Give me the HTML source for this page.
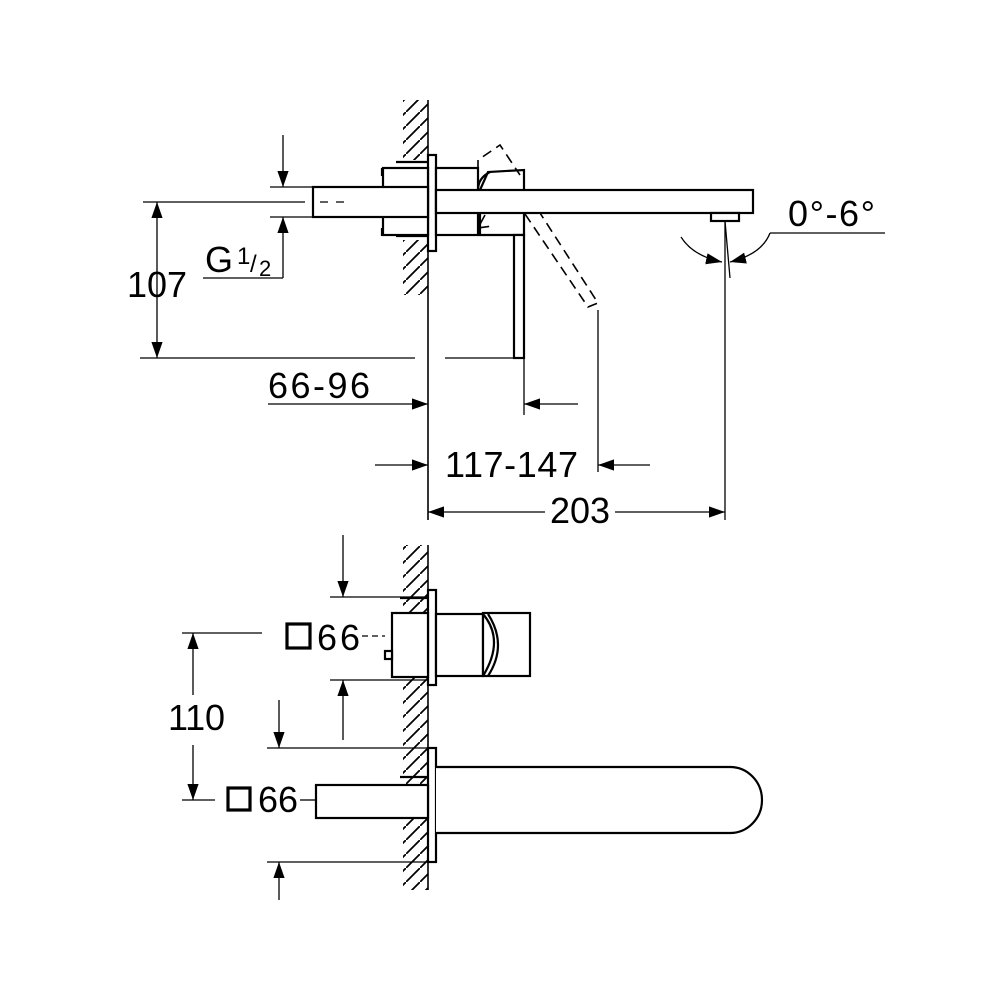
<!DOCTYPE html>
<html><head><meta charset="utf-8"><style>body{margin:0;background:#fff}svg{display:block}</style></head>
<body>
<svg width="1000" height="1000" viewBox="0 0 1000 1000" xmlns="http://www.w3.org/2000/svg" font-family="Liberation Sans, sans-serif">
<defs>
<pattern id="h" width="14" height="14" patternUnits="userSpaceOnUse">
<path d="M0 14 L14 0" stroke="#000" stroke-width="1.8"/>
</pattern>
<marker id="a" viewBox="0 0 10 10" refX="10" refY="5" markerWidth="16" markerHeight="16" markerUnits="userSpaceOnUse" orient="auto-start-reverse"><path d="M0 1.5 L10 5 L0 8.5Z" fill="#000"/></marker>
</defs>
<g stroke="#000" fill="none" stroke-width="1.3">
<!-- TOP VIEW walls -->
<rect x="403" y="100" width="25" height="195" fill="url(#h)" stroke="none"/>
<rect x="403" y="160" width="25" height="80" fill="#fff" stroke="none"/>
<line x1="428" y1="100" x2="428" y2="520" stroke-width="1.6"/>
<g stroke-width="2.2">
<rect x="428" y="155" width="8" height="96" fill="#fff"/>
<line x1="396" y1="162" x2="428" y2="162"/><line x1="396" y1="236" x2="428" y2="236"/>
<rect x="383" y="168" width="45" height="67" fill="#fff"/>
<rect x="313" y="187" width="115" height="30" fill="#fff"/>
<line x1="382" y1="168" x2="382" y2="176"/><line x1="382" y1="228" x2="382" y2="236"/>
<rect x="436" y="168" width="42" height="67" fill="#fff"/>
<path d="M480 190 L488 172 L524 170 L524 235 L480 235 Z" fill="#fff"/>
<path d="M478 190 Q478 178 490 172" />
<rect x="436" y="190" width="317" height="23" fill="#fff"/>
<rect x="514" y="235" width="10" height="123" fill="#fff"/>
<rect x="711" y="213" width="28" height="8" fill="#fff"/>
</g>
<line x1="320" y1="202" x2="345" y2="202" stroke-dasharray="8 8"/>
<g stroke-dasharray="10 6" stroke-width="1.6">
<path d="M478 170 L478 160 L500 145 L520 175"/>
<path d="M485 215 L478 228 L492 226"/>
<path d="M525 214 L588 307 L598 303 L540 213"/>
</g>
<!-- dimensions top -->
<line x1="143" y1="202" x2="305" y2="202"/>
<line x1="140" y1="358" x2="415" y2="358"/><line x1="445" y1="358" x2="514" y2="358"/>
<line x1="157" y1="202" x2="157" y2="358" marker-start="url(#a)" marker-end="url(#a)"/>
<line x1="270" y1="187" x2="313" y2="187"/><line x1="270" y1="217" x2="313" y2="217"/>
<line x1="283" y1="135" x2="283" y2="187" marker-end="url(#a)"/>
<line x1="283" y1="278" x2="283" y2="217" marker-end="url(#a)"/>
<line x1="203" y1="278" x2="283" y2="278"/>
<line x1="268" y1="404" x2="428" y2="404" marker-end="url(#a)"/>
<line x1="578" y1="404" x2="524" y2="404" marker-end="url(#a)"/>
<line x1="524" y1="358" x2="524" y2="415"/>
<line x1="375" y1="465" x2="428" y2="465" marker-end="url(#a)"/>
<line x1="650" y1="465" x2="598" y2="465" marker-end="url(#a)"/>
<line x1="598" y1="310" x2="598" y2="472"/>
<line x1="725" y1="221" x2="725" y2="520"/>
<line x1="725" y1="221" x2="730" y2="278"/>
<line x1="428" y1="512" x2="545" y2="512" marker-start="url(#a)"/>
<line x1="615" y1="512" x2="725" y2="512" marker-end="url(#a)"/>
<path d="M681 237 Q693 256 722 262" marker-end="url(#a)"/>
<path d="M770 233 Q762 254 730 262" marker-end="url(#a)"/>
<line x1="770" y1="233" x2="885" y2="233"/>
<!-- BOTTOM VIEW -->
<rect x="403" y="545" width="25" height="345" fill="url(#h)" stroke="none"/>
<line x1="428" y1="545" x2="428" y2="890" stroke-width="1.6"/>
<g stroke-width="2.2">
<line x1="400" y1="598" x2="428" y2="598"/><line x1="400" y1="672" x2="428" y2="672"/>
<rect x="428" y="590" width="8" height="95" fill="#fff"/>
<rect x="392" y="613" width="36" height="64" fill="#fff"/>
<rect x="385" y="651" width="7" height="8" fill="#fff"/>
<rect x="436" y="614" width="47" height="62" fill="#fff"/>
<rect x="483" y="613" width="47" height="63" fill="#fff"/>
<path d="M483 614 Q505 640 483 676"/><path d="M488 614 Q508 645 488 676"/>
<line x1="400" y1="777" x2="428" y2="777"/><line x1="400" y1="813" x2="428" y2="813"/>
<rect x="428" y="748" width="8" height="114" fill="#fff"/>
<path d="M436 767 L730 767 A32 33 0 0 1 730 833 L436 833" fill="#fff"/>
<rect x="316" y="785" width="112" height="33" fill="#fff"/>
<rect x="228" y="788" width="22" height="22" stroke-width="3.2"/>
<rect x="287" y="624" width="23" height="24" stroke-width="3.2"/>
</g>
<line x1="362" y1="636" x2="385" y2="636" stroke-dasharray="6 4"/>
<line x1="300" y1="800" x2="316" y2="800"/>
<line x1="330" y1="597" x2="428" y2="597"/><line x1="330" y1="680" x2="428" y2="680"/>
<line x1="343" y1="535" x2="343" y2="597" marker-end="url(#a)"/>
<line x1="343" y1="740" x2="343" y2="680" marker-end="url(#a)"/>
<line x1="182" y1="633" x2="262" y2="633"/><line x1="182" y1="800" x2="215" y2="800"/>
<line x1="193" y1="695" x2="193" y2="633" marker-end="url(#a)"/>
<line x1="193" y1="745" x2="193" y2="800" marker-end="url(#a)"/>
<line x1="267" y1="748" x2="428" y2="748"/><line x1="267" y1="862" x2="428" y2="862"/>
<line x1="279" y1="700" x2="279" y2="748" marker-end="url(#a)"/>
<line x1="279" y1="900" x2="279" y2="862" marker-end="url(#a)"/>
</g>
<g font-size="36" fill="#000">
<text x="127" y="297" textLength="60">107</text>
<text x="205" y="272">G</text><text x="237" y="264" font-size="24">1</text><text x="250" y="272" font-size="24">/</text><text x="259" y="276" font-size="22">2</text>
<text x="268" y="398" textLength="102">66-96</text>
<text x="445" y="477" textLength="133">117-147</text>
<text x="550" y="523" textLength="60">203</text>
<text x="788" y="226" textLength="87">0°-6°</text>
<text x="317" y="650" textLength="43">66</text>
<text x="258" y="812" textLength="40">66</text>
<text x="168" y="730" textLength="57">110</text>
</g>
</svg>
</body></html>
